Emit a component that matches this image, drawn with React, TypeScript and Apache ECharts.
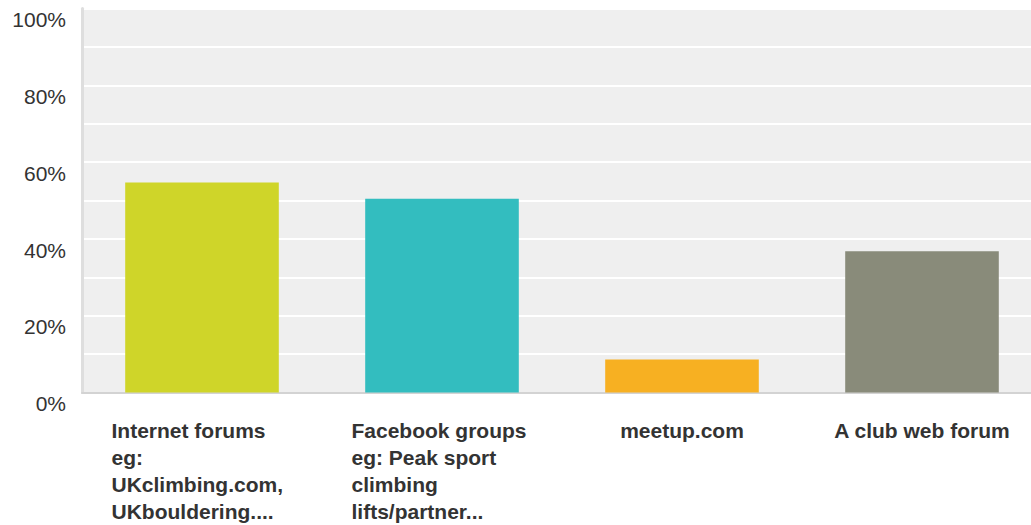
import React, { useEffect, useRef } from "react";
import * as echarts from "echarts";

const categories = [
  "Internet forums\neg:\nUKclimbing.com,\nUKbouldering....",
  "Facebook groups\neg: Peak sport\nclimbing\nlifts/partner...",
  "meetup.com",
  "A club web forum",
];
const values = [54.7, 50.5, 8.6, 36.8];
const barColors = ["#CFD529", "#33BDBF", "#F7B022", "#898B7A"];
const yTickValues = [0, 20, 40, 60, 80, 100];

const FONT = "'Liberation Sans', Arial, Helvetica, sans-serif";

export default function App() {
  const ref = useRef<HTMLDivElement>(null);
  useEffect(() => {
    if (!ref.current) return;
    const chart = echarts.init(ref.current, null, { renderer: "svg" });
    chart.setOption({
      animation: false,
      grid: {
        left: 82,
        top: 8.6,
        width: 960,
        height: 384,
        show: true,
        backgroundColor: "#efefef",
        borderWidth: 0,
        containLabel: false,
        outerBoundsMode: "none",
      },
      xAxis: {
        type: "category",
        data: categories,
        axisTick: { show: false },
        axisLine: { show: true, lineStyle: { color: "#d3d3d3", width: 2 } },
        splitLine: { show: false },
        axisLabel: {
          interval: 0,
          hideOverlap: false,
          margin: 24,
          align: "center",
          verticalAlign: "top",
          color: "#333",
          fontFamily: FONT,
          fontSize: 21,
          fontWeight: "bold",
          lineHeight: 27,
          formatter: (v: string) =>
            v.includes("\n")
              ? v
                  .split("\n")
                  .map((l) => `{l|${l}}`)
                  .join("\n")
              : `{c|${v}}`,
          rich: {
            l: {
              width: 181,
              align: "left",
              color: "#333",
              fontFamily: FONT,
              fontSize: 21,
              fontWeight: "bold",
              lineHeight: 27,
            },
            c: {
              color: "#333",
              fontFamily: FONT,
              fontSize: 21,
              fontWeight: "bold",
              lineHeight: 27,
            },
          },
        },
      },
      yAxis: {
        type: "value",
        min: 0,
        max: 100,
        interval: 10,
        axisLine: { show: true, lineStyle: { color: "#dedede", width: 3 } },
        axisTick: { show: false },
        splitLine: { show: true, lineStyle: { color: "#ffffff", width: 2 } },
        axisLabel: {
          margin: 16,
          color: "#333",
          fontFamily: FONT,
          fontSize: 21,
          verticalAlign: "top",
          lineHeight: 22,
          formatter: (v: number) => (yTickValues.includes(v) ? `${v}%` : ""),
        },
      },
      series: [
        {
          type: "bar",
          barWidth: "64%",
          data: values.map((v, i) => ({ value: v, itemStyle: { color: barColors[i] } })),
        },
      ],
    });
    return () => chart.dispose();
  }, []);
  return (
    <div
      ref={ref}
      style={{ position: "absolute", left: 0, top: 0, width: 1031, height: 525, background: "#fff" }}
    />
  );
}
